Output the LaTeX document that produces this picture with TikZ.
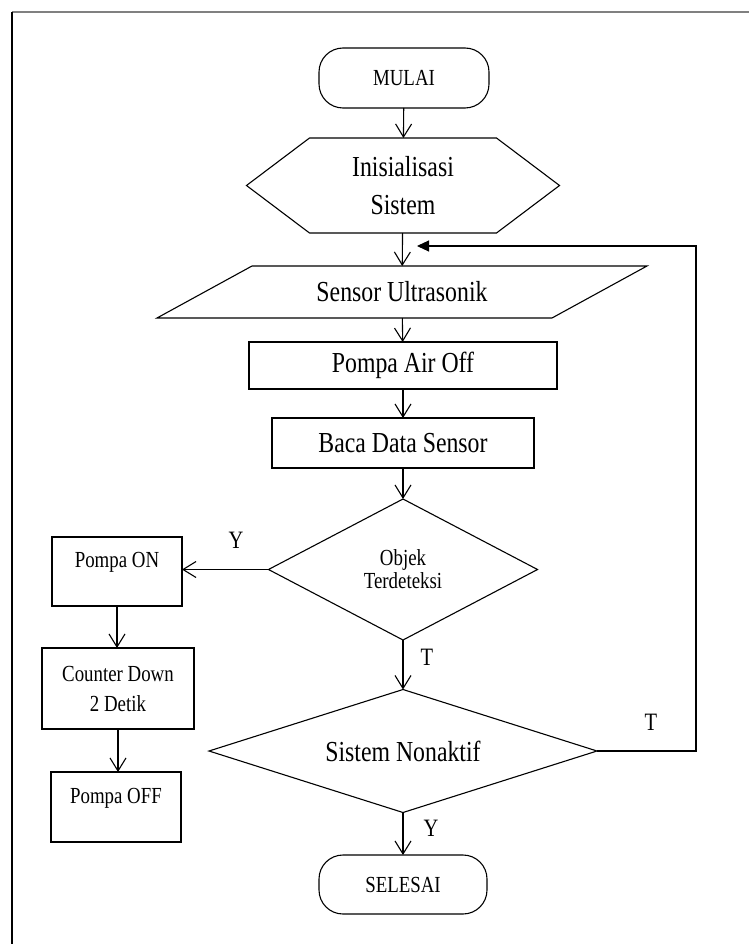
\documentclass[tikz,border=0pt]{standalone}
\usepackage{fontspec}
\setmainfont{Liberation Serif}[FakeStretch=0.82]
\usetikzlibrary{arrows.meta,shapes.geometric,calc}
\begin{document}
\begin{tikzpicture}[x=1pt,y=-1pt,
  line width=1.1pt,
  every node/.style={inner sep=0pt, outer sep=0pt},
  term/.style={draw, rectangle, rounded corners=24pt, minimum width=170pt, minimum height=60pt, font=\fontsize{23}{24}\selectfont},
  procbox/.style={draw, rectangle, font=\fontsize{29}{32}\selectfont},
  smallbox/.style={draw, rectangle, font=\fontsize{23}{28}\selectfont, align=center},
  bigtext/.style={font=\fontsize{29}{38}\selectfont, align=center},
  decision/.style={draw, diamond, align=center},
  lbl/.style={font=\fontsize{25}{25}\selectfont},
  arr/.style={-{Straight Barb[length=13pt,width=16pt]}},
  looparr/.style={-{Triangle[length=12pt,width=11pt]}}
]
\useasboundingbox (0,0) rectangle (749,944);
% frame
\draw[gray, line width=1.5pt] (12,12) -- (749,12);
\draw[line width=1.2pt] (12,12) -- (12,944);

\node[term] (mulai) at (404,78) {MULAI};

\node[bigtext, minimum width=313pt, minimum height=95pt] (init) at (403,185.5) {Inisialisasi\\Sistem};
\draw (init.west) -- ([xshift=63pt]init.north west) -- ([xshift=-63pt]init.north east) -- (init.east) -- ([xshift=-63pt]init.south east) -- ([xshift=63pt]init.south west) -- cycle;

\node[bigtext, minimum width=490pt, minimum height=52pt] (sensor) at (402,292) {Sensor Ultrasonik};
\draw ([xshift=95pt]sensor.north west) -- (sensor.north east) -- ([xshift=-95pt]sensor.south east) -- (sensor.south west) -- cycle;

\node[procbox, minimum width=308pt, minimum height=47pt] (pompaair) at (403,365.5) {Pompa Air Off};
\node[procbox, minimum width=262pt, minimum height=50pt] (baca) at (403,443) {Baca Data Sensor};

\node[decision, minimum width=269pt, minimum height=141pt, aspect=1.9, font=\fontsize{23}{23}\selectfont] (objek) at (403,569.5) {Objek\\Terdeteksi};

\node[decision, minimum width=388pt, minimum height=123pt, aspect=3.15, font=\fontsize{29}{32}\selectfont] (sistem) at (403,751) {Sistem Nonaktif};

\node[term, minimum width=168pt, minimum height=59pt] (selesai) at (403,884.5) {SELESAI};

\node[smallbox, minimum width=130pt, minimum height=69pt, text height=15pt, text depth=23pt] (pompaon) at (117,571.5) {Pompa ON};
\node[smallbox, minimum width=152pt, minimum height=81pt, font=\fontsize{23}{30}\selectfont] (counter) at (118,688.5) {Counter Down\\2 Detik};
\node[smallbox, minimum width=130pt, minimum height=70pt, text height=15pt, text depth=23pt] (pompaoff) at (116,807) {Pompa OFF};

% connectors
\draw[arr] (mulai) -- (init);
\draw[arr] (init) -- (sensor);
\draw[arr] (sensor) -- (pompaair);
\draw[arr] (pompaair) -- (baca);
\draw[arr] (baca) -- (objek);
\draw[arr] (objek) -- (sistem);
\draw[arr] (sistem) -- (selesai);
\draw[arr] (objek.west) -- (objek.west -| pompaon.east);
\draw[arr] (pompaon.south) -- (pompaon.south |- counter.north);
\draw[arr] (counter.south) -- (counter.south |- pompaoff.north);

\coordinate (loopcorner) at (696,246);
\coordinate (looptip) at (417,246);
\draw[looparr] (sistem.east) -| (loopcorner) -- (looptip);

% labels
\node[lbl] (ylbl1) at (236,540) {Y};
\node[lbl] (tlbl1) at (427,657) {T};
\node[lbl] (tlbl2) at (651,722) {T};
\node[lbl] (ylbl2) at (431,828) {Y};
\end{tikzpicture}
\end{document}
